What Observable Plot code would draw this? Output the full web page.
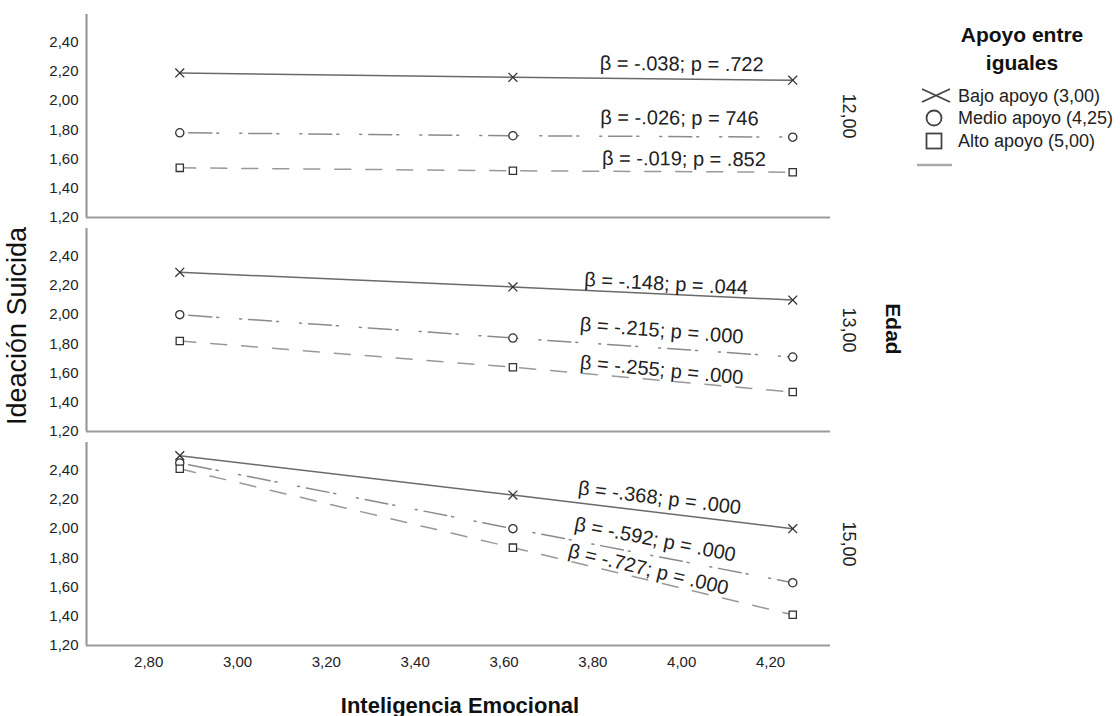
<!DOCTYPE html>
<html>
<head>
<meta charset="utf-8">
<script src="https://cdn.jsdelivr.net/npm/d3@7"></script>
<script src="https://cdn.jsdelivr.net/npm/@observablehq/plot@0.6"></script>
<style>
  html, body { margin: 0; padding: 0; background: #fff; }
  #wrap { position: relative; width: 1120px; height: 716px; font-family: "Liberation Sans", Arial, sans-serif; }
  #wrap svg { position: absolute; left: 0; top: 0; }
</style>
</head>
<body>
<div id="wrap"></div>
<script>
// ---- data ----
const xValues = [2.87, 3.62, 4.25];
const edades = ["12,00", "13,00", "15,00"];
const grupos = ["Bajo apoyo (3,00)", "Medio apoyo (4,25)", "Alto apoyo (5,00)"];

const bajo12 = [2.19, 2.16, 2.14];
const medio12 = [1.78, 1.76, 1.75];
const alto12 = [1.54, 1.52, 1.51];

const bajo13 = [2.29, 2.19, 2.10];
const medio13 = [2.00, 1.84, 1.71];
const alto13 = [1.82, 1.64, 1.47];

const bajo15 = [2.50, 2.23, 2.00];
const medio15 = [2.45, 2.00, 1.63];
const alto15 = [2.41, 1.87, 1.41];

const yTicks = [1.2, 1.4, 1.6, 1.8, 2.0, 2.2, 2.4];
const xTicks = [2.8, 3.0, 3.2, 3.4, 3.6, 3.8, 4.0, 4.2];

const annotEdad = ["12,00", "12,00", "12,00", "13,00", "13,00", "13,00", "15,00", "15,00", "15,00"];
const annotText = [
  "β = -.038; p = .722", "β = -.026; p = 746", "β = -.019; p = .852",
  "β = -.148; p = .044", "β = -.215; p = .000", "β = -.255; p = .000",
  "β = -.368; p = .000", "β = -.592; p = .000", "β = -.727; p = .000"
];
const annotX = [4.00, 3.995, 4.005, 3.965, 3.955, 3.955, 3.95, 3.94, 3.925];
const annotY = [2.25, 1.88, 1.60, 2.21, 1.89, 1.62, 2.21, 1.925, 1.72];
const annotRotate = [0.5, 0.5, 0.5, 3, 4.5, 5.5, 7, 11, 13.5];

// ---- build table ----
const series = {
  "12,00": [bajo12, medio12, alto12],
  "13,00": [bajo13, medio13, alto13],
  "15,00": [bajo15, medio15, alto15]
};
const rows = [];
for (const e of edades) {
  series[e].forEach((vals, gi) => {
    vals.forEach((v, i) => rows.push({edad: e, grupo: grupos[gi], x: xValues[i], y: v}));
  });
}
const annots = annotText.map((t, i) => ({edad: annotEdad[i], text: t, x: annotX[i], y: annotY[i], rotate: annotRotate[i]}));

const fmt = d => d3.format(".2f")(d).replace(".", ",");
const FONT = "'Liberation Sans', Arial, sans-serif";

const lineStyles = [
  {stroke: "#6a6a6a", dash: null},
  {stroke: "#8a8a8a", dash: "2,7,23,5,2,21"},
  {stroke: "#999999", dash: "16,15"}
];

const marks = [
  Plot.ruleY([1.2], {stroke: "#9a9a9a", strokeWidth: 2.2}),
  Plot.ruleX([2.66], {stroke: "#9a9a9a", strokeWidth: 2.2}),
  Plot.axisY({ticks: yTicks, tickFormat: fmt, tickSize: 0, tickPadding: 8, fontSize: 15, fill: "#222", label: null}),
  Plot.axisX({ticks: xTicks, tickFormat: fmt, tickSize: 0, tickPadding: 11, fontSize: 15, fill: "#222", label: null}),
];
grupos.forEach((g, gi) => {
  marks.push(Plot.line(rows.filter(d => d.grupo === g), {
    x: "x", y: "y", fy: "edad", z: "edad",
    stroke: lineStyles[gi].stroke, strokeWidth: 1.5,
    strokeDasharray: lineStyles[gi].dash
  }));
});
marks.push(
  Plot.dot(rows, {x: "x", y: "y", fy: "edad", symbol: "grupo", r: 4.1, stroke: "#333", strokeWidth: 1.3, fill: "white"}),
  Plot.text(annots, {x: "x", y: "y", fy: "edad", text: "text", rotate: "rotate", fontSize: 20, fill: "#222", fontFamily: FONT}),
  Plot.text(edades, {fy: d => d, text: d => d, frameAnchor: "right", textAnchor: "middle", dx: 18, rotate: 90, fontSize: 18, fill: "#222", fontFamily: FONT})
);

const chart = Plot.plot({
  width: 1120,
  height: 716,
  marginLeft: 86,
  marginRight: 290,
  marginTop: 13,
  marginBottom: 69,
  style: {fontFamily: FONT, background: "white", overflow: "visible"},
  x: {domain: [2.66, 4.335], label: null},
  y: {domain: [1.2, 2.59], label: null},
  fy: {domain: edades, paddingInner: 0.05, paddingOuter: 0, axis: null, label: null},
  symbol: {domain: grupos, range: ["times", "circle", "square"]},
  marks
});

document.getElementById("wrap").appendChild(chart);

// ---- titles & legend ----
const svg = d3.select(chart);
svg.append("text")
  .attr("transform", "translate(26,326) rotate(-90)")
  .attr("text-anchor", "middle")
  .attr("font-size", 27).attr("fill", "#111").attr("font-family", FONT)
  .text("Ideación Suicida");
svg.append("text")
  .attr("x", 460).attr("y", 713)
  .attr("text-anchor", "middle")
  .attr("font-size", 22).attr("font-weight", "bold").attr("fill", "#111").attr("font-family", FONT)
  .text("Inteligencia Emocional");
svg.append("text")
  .attr("transform", "translate(886,329) rotate(90)")
  .attr("text-anchor", "middle")
  .attr("font-size", 21).attr("font-weight", "bold").attr("fill", "#111").attr("font-family", FONT)
  .text("Edad");

const leg = svg.append("g");
leg.append("text").attr("x", 1022).attr("y", 42).attr("text-anchor", "middle")
  .attr("font-size", 21).attr("font-weight", "bold").attr("fill", "#111").attr("font-family", FONT)
  .text("Apoyo entre");
leg.append("text").attr("x", 1022).attr("y", 70).attr("text-anchor", "middle")
  .attr("font-size", 21).attr("font-weight", "bold").attr("fill", "#111").attr("font-family", FONT)
  .text("iguales");
const legY = [96, 118, 141];
grupos.forEach((g, i) => {
  leg.append("text").attr("x", 958).attr("y", legY[i]).attr("dy", "0.35em")
    .attr("text-anchor", "start")
    .attr("font-size", 18).attr("fill", "#222").attr("font-family", FONT).text(g);
});
// legend symbols
leg.append("path").attr("d", "M922,89L950,102M922,102L950,89").attr("stroke", "#444").attr("stroke-width", 1.8).attr("fill", "none");
leg.append("circle").attr("cx", 934).attr("cy", 118).attr("r", 7.5).attr("stroke", "#444").attr("stroke-width", 1.8).attr("fill", "none");
leg.append("rect").attr("x", 926.5).attr("y", 133.5).attr("width", 15).attr("height", 15).attr("stroke", "#444").attr("stroke-width", 1.8).attr("fill", "none");
leg.append("line").attr("x1", 917).attr("x2", 952).attr("y1", 165).attr("y2", 165).attr("stroke", "#aaa").attr("stroke-width", 2.5);
</script>
</body>
</html>
